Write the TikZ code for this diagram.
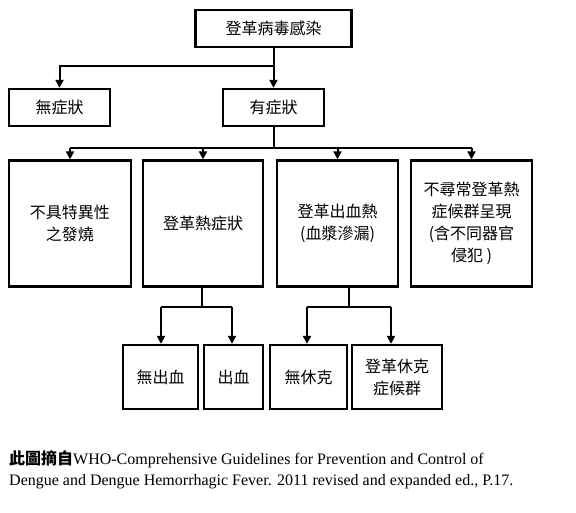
\documentclass[tikz,border=0pt]{standalone}
\usepackage{fontspec}
\setmainfont{Liberation Serif}
\newfontfamily\cjk{Noto Sans CJK TC}
\usetikzlibrary{arrows.meta}
\tikzset{
  box/.style={draw=black, line width=2.3pt, inner sep=0pt, align=center,
    font=\cjk\fontsize{16}{22}\selectfont},
  conn/.style={line width=2pt, draw=black},
  arr/.style={conn, -{Triangle[width=8pt,length=8pt]}},
  captext/.style={anchor=base west, inner sep=0pt, font=\fontsize{16}{18}\selectfont}
}
\begin{document}
\begin{tikzpicture}[x=1pt,y=-1pt]
\useasboundingbox[fill=white] (0,0) rectangle (576,512);
% level 0
\node[box, minimum width=156pt, minimum height=37pt] (top) at (273.5,28.5) {登革病毒感染};
% level 1
\node[box, minimum width=101pt, minimum height=37pt] (none) at (59.5,107.5) {無症狀};
\node[box, minimum width=101pt, minimum height=37pt] (sym) at (273.5,107.5) {有症狀};
% level 2
\node[box, minimum width=122pt, minimum height=126pt] (b1) at (70,223.5) {不具特異性\\之發燒};
\node[box, minimum width=120pt, minimum height=126pt] (b2) at (203,223.5) {登革熱症狀};
\node[box, minimum width=121pt, minimum height=126pt] (b3) at (337.5,223.5) {登革出血熱\\(血漿滲漏)};
\node[box, minimum width=121pt, minimum height=126pt] (b4) at (471.5,223.5) {不尋常登革熱\\症候群呈現\\(含不同器官\\侵犯 )};
% level 3
\node[box, minimum width=75pt, minimum height=64pt] (c1) at (160.5,377) {無出血};
\node[box, minimum width=59pt, minimum height=64pt] (c2) at (233.5,377) {出血};
\node[box, minimum width=77pt, minimum height=64pt] (c3) at (308.5,377) {無休克};
\node[box, minimum width=90pt, minimum height=64pt] (c4) at (397,377) {登革休克\\症候群};
% junctions
\coordinate (j1) at (273.5,65.7);
\coordinate (j2) at (273.5,148);
\coordinate (j3) at (202,306.7);
\coordinate (j4) at (349,306.7);
\coordinate (a1) at (161,306.7);
\coordinate (a2) at (232,306.7);
\coordinate (a3) at (307,306.7);
\coordinate (a4) at (391,306.7);
% connectors level 0 -> 1
\draw[arr] (top.south) -- (sym.north);
\draw[arr] (j1) -| (none.north);
% level 1 -> 2
\draw[conn] (sym.south) -- (j2);
\draw[conn] (b1.north |- j2) -- (b4.north |- j2);
\draw[arr] (b1.north |- j2) -- (b1.north);
\draw[arr] (b2.north |- j2) -- (b2.north);
\draw[arr] (b3.north |- j2) -- (b3.north);
\draw[arr] (b4.north |- j2) -- (b4.north);
% level 2 -> 3
\draw[conn] (b2.south -| j3) -- (j3);
\draw[conn] (a1) -- (a2);
\draw[arr] (a1) -- (a1 |- c1.north);
\draw[arr] (a2) -- (a2 |- c2.north);
\draw[conn] (b3.south -| j4) -- (j4);
\draw[conn] (a3) -- (a4);
\draw[arr] (a3) -- (a3 |- c3.north);
\draw[arr] (a4) -- (a4 |- c4.north);
% caption
\node[captext] (cap1) at (9,464) {{\cjk\bfseries 此圖摘自}WHO-Comprehensive Guidelines for Prevention and Control of};
\node[captext] (cap2) at (9,485) {Dengue and Dengue Hemorrhagic Fever. 2011 revised and expanded ed., P.17.};
\end{tikzpicture}
\end{document}
